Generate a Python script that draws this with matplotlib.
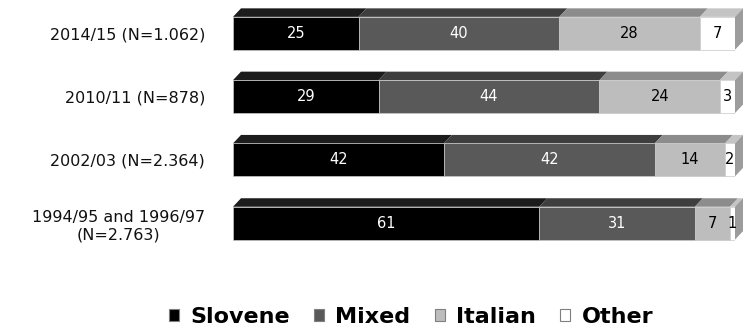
import matplotlib
matplotlib.use("Agg")
import matplotlib.pyplot as plt
from matplotlib.patches import Polygon, Patch
import numpy as np

categories = ["2014/15 (N=1.062)", "2010/11 (N=878)", "2002/03 (N=2.364)",
              "1994/95 and 1996/97\n(N=2.763)"]
series_names = ["Slovene", "Mixed", "Italian", "Other"]
slovene = [25, 29, 42, 61]
mixed = [40, 44, 42, 31]
italian = [28, 24, 14, 7]
other = [7, 3, 2, 1]

front_colors = ["#000000", "#595959", "#bdbdbd", "#ffffff"]
top_colors = ["#1c1c1c", "#3e3e3e", "#8c8c8c", "#c4c4c4"]
side_color = "#9c9c9c"
text_colors = ["white", "white", "black", "black"]

W, H = 747, 330
fig = plt.figure(figsize=(W / 100, H / 100), dpi=100)
ax_left, ax_right = 233, 735
ax_top, ax_bot = 0, 264
ax = fig.add_axes([ax_left / W, (H - ax_bot) / H, (ax_right - ax_left) / W, (ax_bot - ax_top) / H])

c0, step = 33.3, 63.3
ax.set_xlim(0, 100)
ax.set_ylim((ax_bot - c0) / step, (ax_top - c0) / step)

data = np.array([slovene, mixed, italian, other], dtype=float)
ypos = np.arange(len(categories))
bh = 0.52
dx = 8.0 / ((ax_right - ax_left) / 100.0)
dy = 8.5 / step

lefts = np.zeros(len(categories))
for s in range(len(series_names)):
    vals = data[s]
    ax.barh(ypos, vals, left=lefts, height=bh, color=front_colors[s],
            edgecolor="#c8c8c8", linewidth=0.5, label=series_names[s], zorder=3)
    for i, (l, v) in enumerate(zip(lefts, vals)):
        ytop = ypos[i] - bh / 2
        top = Polygon([(l, ytop), (l + dx, ytop - dy), (l + v + dx, ytop - dy), (l + v, ytop)],
                      closed=True, facecolor=top_colors[s], edgecolor="none",
                      zorder=2, clip_on=False)
        ax.add_patch(top)
        cx = l + v / 2
        ax.text(cx, ypos[i], f"{int(v)}", ha="center", va="center",
                color=text_colors[s], fontsize=10.5, family="DejaVu Sans", zorder=5)
    lefts = lefts + vals

for i in range(len(categories)):
    ytop = ypos[i] - bh / 2
    ybot = ypos[i] + bh / 2
    x1 = lefts[i]
    side = Polygon([(x1, ytop), (x1 + dx, ytop - dy), (x1 + dx, ybot - dy), (x1, ybot)],
                   closed=True, facecolor=side_color, edgecolor="none", zorder=2, clip_on=False)
    ax.add_patch(side)

ax.set_yticks(ypos)
ax.set_yticklabels(categories, fontsize=11.5, family="DejaVu Sans", color="#111111")
for lbl in ax.get_yticklabels():
    lbl.set_multialignment("center")
ax.tick_params(axis="y", length=0, pad=20)
ax.set_xticks([])
for sp in ax.spines.values():
    sp.set_visible(False)

handles = [Patch(facecolor=front_colors[s], edgecolor="#7f7f7f", linewidth=0.8, label=series_names[s])
           for s in range(len(series_names))]
leg = fig.legend(handles=handles, loc="center", bbox_to_anchor=(411 / W, 1 - 317 / H), ncol=4,
                 frameon=False, prop={"family": "DejaVu Sans", "weight": "bold", "size": 16},
                 handlelength=0.45, handleheight=0.45, handletextpad=0.5, columnspacing=1.1,
                 borderpad=0)

fig.savefig("out.png", dpi=100)
